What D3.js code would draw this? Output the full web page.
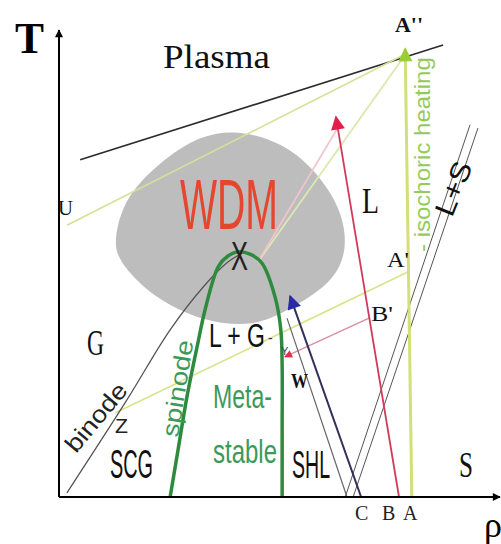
<!DOCTYPE html>
<html>
<head>
<meta charset="utf-8">
<script src="https://cdn.jsdelivr.net/npm/d3@7"></script>
<style>
body { margin: 0; background: #fff; }
svg { display: block; }
.serif { font-family: "Liberation Serif", "DejaVu Serif", serif; }
.sans { font-family: "Liberation Sans", Arial, sans-serif; }
</style>
</head>
<body>
<svg id="chart" width="501" height="544"></svg>
<script>
// data in (rho, T) units, both axes 0..100
var blob = [[41.0,78.6],[50.6,75.8],[57.4,70.7],[63.3,63.0],[65.3,55.7],[64.2,49.3],[59.6,44.3],
  [51.9,40.0],[44.4,36.6],[34.7,37.3],[27.0,40.0],[19.5,44.3],[13.4,50.7],[12.4,55.0],
  [14.8,64.0],[22.5,71.5],[32.0,77.6]];
var spinode = [[25.2,0],[27.0,10.1],[29.0,21.4],[31.5,33.0],[33.1,40.0],[36.1,49.3],[38.3,51.6],
  [40.6,52.5],[43.3,52.0],[46.0,50.1],[49.0,42.8],[50.3,35.8],[50.6,28.0],[50.6,15.0],[50.6,0]];
var binode = [[1.8,0.9],[15.4,20.8],[25.2,35.8],[33.1,45.4],[38.3,50.3],[41.5,52.2]];
var plasmaLine = [[4.8,72.2],[87.1,96.8]];
var isochoric = [[80.0,0],[78.5,96.0]];
var pathAU = [[78.0,94.6],[1.8,58.2]];
var pathAX = [[78.0,94.0],[45.1,50.3]];
var pathBX = [[63.3,79.2],[45.1,50.3]];
var pathB = [[77.1,0],[62.8,81.4]];
var pathAZ = [[79.1,48.2],[12.7,18.0]];
var pathBW = [[70.3,38.3],[51.2,30.0]];
var pathC = [[68.5,0],[52.4,43.0]];
var pathC2 = [[65.3,0],[51.7,38.3]];
var lsLine1 = [[64.9,0],[93.2,79.7]];
var lsLine2 = [[66.7,0],[95.0,79.0]];

var svg = d3.select("#chart");
var x = d3.scaleLinear().domain([0, 100]).range([59, 500]);
var y = d3.scaleLinear().domain([0, 100]).range([497, 30]);
var line = d3.line().x(function(d) { return x(d[0]); }).y(function(d) { return y(d[1]); });

var defs = svg.append("defs");
function marker(id, color, w, h) {
  defs.append("marker")
    .attr("id", id)
    .attr("viewBox", "0 -5 10 10")
    .attr("refX", 9).attr("refY", 0)
    .attr("markerWidth", w).attr("markerHeight", h)
    .attr("markerUnits", "userSpaceOnUse")
    .attr("orient", "auto")
    .append("path").attr("d", "M0,-5L10,0L0,5Z").attr("fill", color);
}
marker("mGreen", "#9acd32", 16, 14);
marker("mRed", "#e0204a", 18, 14);
marker("mBlue", "#2a2aa8", 18, 14);
marker("mSmall", "#e03050", 12, 8);
marker("mAxis", "#000", 10, 8);

// WDM region
svg.append("path")
  .attr("d", d3.line().x(function(d) { return x(d[0]); }).y(function(d) { return y(d[1]); })
    .curve(d3.curveBasisClosed)(blob))
  .attr("fill", "#bdbdbd");

function drawLine(data, color, width, mk) {
  var p = svg.append("path").attr("d", line(data)).attr("fill", "none")
    .attr("stroke", color).attr("stroke-width", width);
  if (mk) p.attr("marker-end", "url(#" + mk + ")");
  return p;
}

drawLine(plasmaLine, "#2b2b2b", 1.6);
drawLine(pathAU, "#d3e29a", 1.6);
drawLine(pathAX, "#dbe8b0", 1.8);
drawLine(pathBX, "#f2c4cc", 1.8);
drawLine(lsLine1, "#555", 1);
drawLine(lsLine2, "#555", 1);
drawLine(pathAZ, "#d8e48c", 1.6);
drawLine(pathBW, "#d890a0", 1.5, "mSmall");
drawLine(pathC2, "#666", 1.2);
drawLine(pathC, "#303058", 2, "mBlue");
drawLine(pathB, "#d23a5c", 1.8, "mRed");
drawLine(isochoric, "#d3df78", 3, "mGreen");

svg.append("path").attr("d", line.curve(d3.curveCatmullRom)(binode))
  .attr("fill", "none").attr("stroke", "#555").attr("stroke-width", 1.3);
svg.append("path").attr("d", line.curve(d3.curveCatmullRom)(spinode))
  .attr("fill", "none").attr("stroke", "#2e8b3e").attr("stroke-width", 3.5);

// axes
svg.append("line").attr("x1", x(0)).attr("y1", y(0)).attr("x2", x(0)).attr("y2", y(100))
  .attr("stroke", "#000").attr("stroke-width", 2).attr("marker-end", "url(#mAxis)");
svg.append("line").attr("x1", x(0)).attr("y1", y(0)).attr("x2", x(100)).attr("y2", y(0))
  .attr("stroke", "#000").attr("stroke-width", 2).attr("marker-end", "url(#mAxis)");

// text squeezed to a target width with a scale, so its box stays true
function label(txt, px, py, cls, size, color, len, angle, weight) {
  var t = svg.append("text").attr("class", cls)
    .attr("font-size", size).attr("fill", color).text(txt);
  if (weight) t.attr("font-weight", weight);
  var sx = 1;
  if (len) sx = len / t.node().getComputedTextLength();
  t.attr("transform", "translate(" + px + "," + py + ")" + (angle ? " rotate(" + angle + ")" : "") +
    " scale(" + sx + ",1)");
  return t;
}

label("T", 15, 53, "serif", 44, "#000", 29, 0, "bold");
label("ρ", 484, 537, "serif", 36, "#000");
label("Plasma", 163, 68, "serif", 34, "#111", 107);
label("A''", 395, 32, "serif", 20, "#111", 28, 0, "bold");
label("WDM", 180, 229, "sans", 70, "#e4472e", 98);
label("X", 231, 270, "sans", 40, "#222", 17);
label("L", 362, 213, "serif", 36, "#111", 17);
label("G", 87, 355, "serif", 36, "#111", 17);
label("S", 459, 477, "serif", 36, "#111", 14);
label("U", 58, 215, "serif", 22, "#111", 15);
label("A'", 387, 267, "serif", 22, "#111", 22);
label("B'", 371, 321, "serif", 22, "#111", 22);
label("W", 291, 388, "serif", 20, "#111", 17, 0, "bold");
label("Z", 115, 433, "sans", 20, "#222", 13);
label("L + G", 209, 347, "sans", 34, "#111", 56);
label("-", 268, 343, "sans", 14, "#333");
label("Y", 281, 355, "sans", 11, "#345");
label("Meta-", 213, 408, "sans", 34, "#3b9a58", 59);
label("stable", 213, 463, "sans", 34, "#3b9a58", 64);
label("SCG", 110, 478, "sans", 40, "#111", 43);
label("SHL", 292, 478, "sans", 38, "#111", 38);
label("C", 355, 520, "serif", 20, "#222");
label("B", 382, 520, "serif", 20, "#222");
label("A", 403, 520, "serif", 20, "#222");

label("- isochoric heating", 430, 252, "sans", 22, "#96c95c", 195, -90);
label("L+S", 452, 218, "sans", 28, "#111", 56, -68);
label("binode", 76, 454, "sans", 24, "#222", 82, -50);
label("spinode", 178, 438, "sans", 24, "#3b9a58", 98, -81);
</script>
</body>
</html>
